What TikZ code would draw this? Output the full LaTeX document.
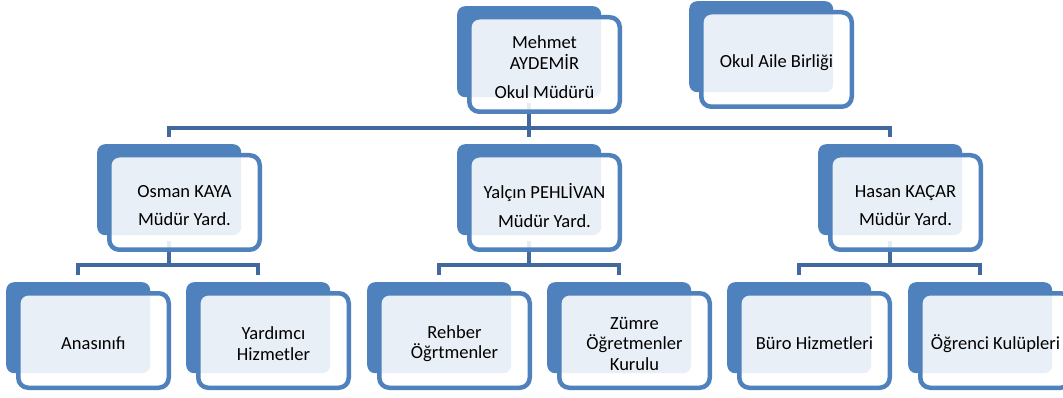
\documentclass[tikz,border=0pt]{standalone}
\usepackage{fontspec}
\setmainfont{Carlito}
\usetikzlibrary{backgrounds}
\definecolor{ablue}{HTML}{4F81BD}
\definecolor{cblue}{HTML}{41699D}
\newcommand\orgbox[4]{%
  \node[backbox] (#1b) at (#2,#3) {};
  \node[frontbox] (#1) at (#2+87.5,#3+58.5) {};
  \node[boxtext] (#1t) at ([yshift=-3pt]#1.center) {#4};}
\begin{document}
\begin{tikzpicture}[x=1pt,y=-1pt,
  backbox/.style={fill=ablue, rounded corners=8pt, minimum width=144pt, minimum height=91pt, inner sep=0pt, anchor=north west},
  frontbox/.style={draw=ablue, line width=4.5pt, fill=white, fill opacity=0.88, rounded corners=10pt, minimum width=150.5pt, minimum height=94.5pt, inner sep=0pt, anchor=center},
  boxtext/.style={inner sep=0pt, align=center, anchor=center, font=\fontsize{18.5}{20.5}\selectfont},
  conn/.style={draw=cblue, line width=4.5pt}]
\useasboundingbox (0,0) rectangle (1063,398);
\clip (0,0) rectangle (1063,398);
\orgbox{top}{457}{6}{Mehmet\\AYDEMİR\\[9pt]Okul Müdürü}
\orgbox{aile}{689}{1}{Okul Aile Birliği}
\orgbox{os}{97}{144}{Osman KAYA\\[8pt]Müdür Yard.}
\orgbox{ya}{457}{144}{Yalçın PEHLİVAN\\[8pt]Müdür Yard.}
\orgbox{ha}{818}{144}{Hasan KAÇAR\\[8pt]Müdür Yard.}
\orgbox{an}{6}{282}{Anasınıfı}
\orgbox{yr}{186}{282}{Yardımcı\\Hizmetler}
\orgbox{re}{367}{282}{Rehber\\Öğrtmenler}
\orgbox{zu}{547}{282}{Zümre\\Öğretmenler\\Kurulu}
\orgbox{bu}{727}{282}{Büro Hizmetleri}
\orgbox{og}{908}{282}{Öğrenci Kulüpleri}
\coordinate (bus1) at (0,128);
\coordinate (bus2) at (0,265);
\begin{scope}[on background layer]
\draw[conn, shorten <=6pt] (topb.south) -- (topb.south |- bus1);
\draw[conn, shorten <=7pt, shorten >=7pt] (osb.north) -- (osb.north |- bus1) -- (hab.north |- bus1) -- (hab.north);
\draw[conn, shorten <=7pt] (yab.north) -- (yab.north |- bus1);
\foreach \p/\l/\r in {os/an/yr, ya/re/zu, ha/bu/og} {
  \draw[conn, shorten <=6pt] (\p b.south) -- (\p b.south |- bus2);
  \draw[conn, shorten <=7pt, shorten >=7pt] (\l b.north) -- (\l b.north |- bus2) -- (\r b.north |- bus2) -- (\r b.north);
}
\end{scope}
\end{tikzpicture}
\end{document}
